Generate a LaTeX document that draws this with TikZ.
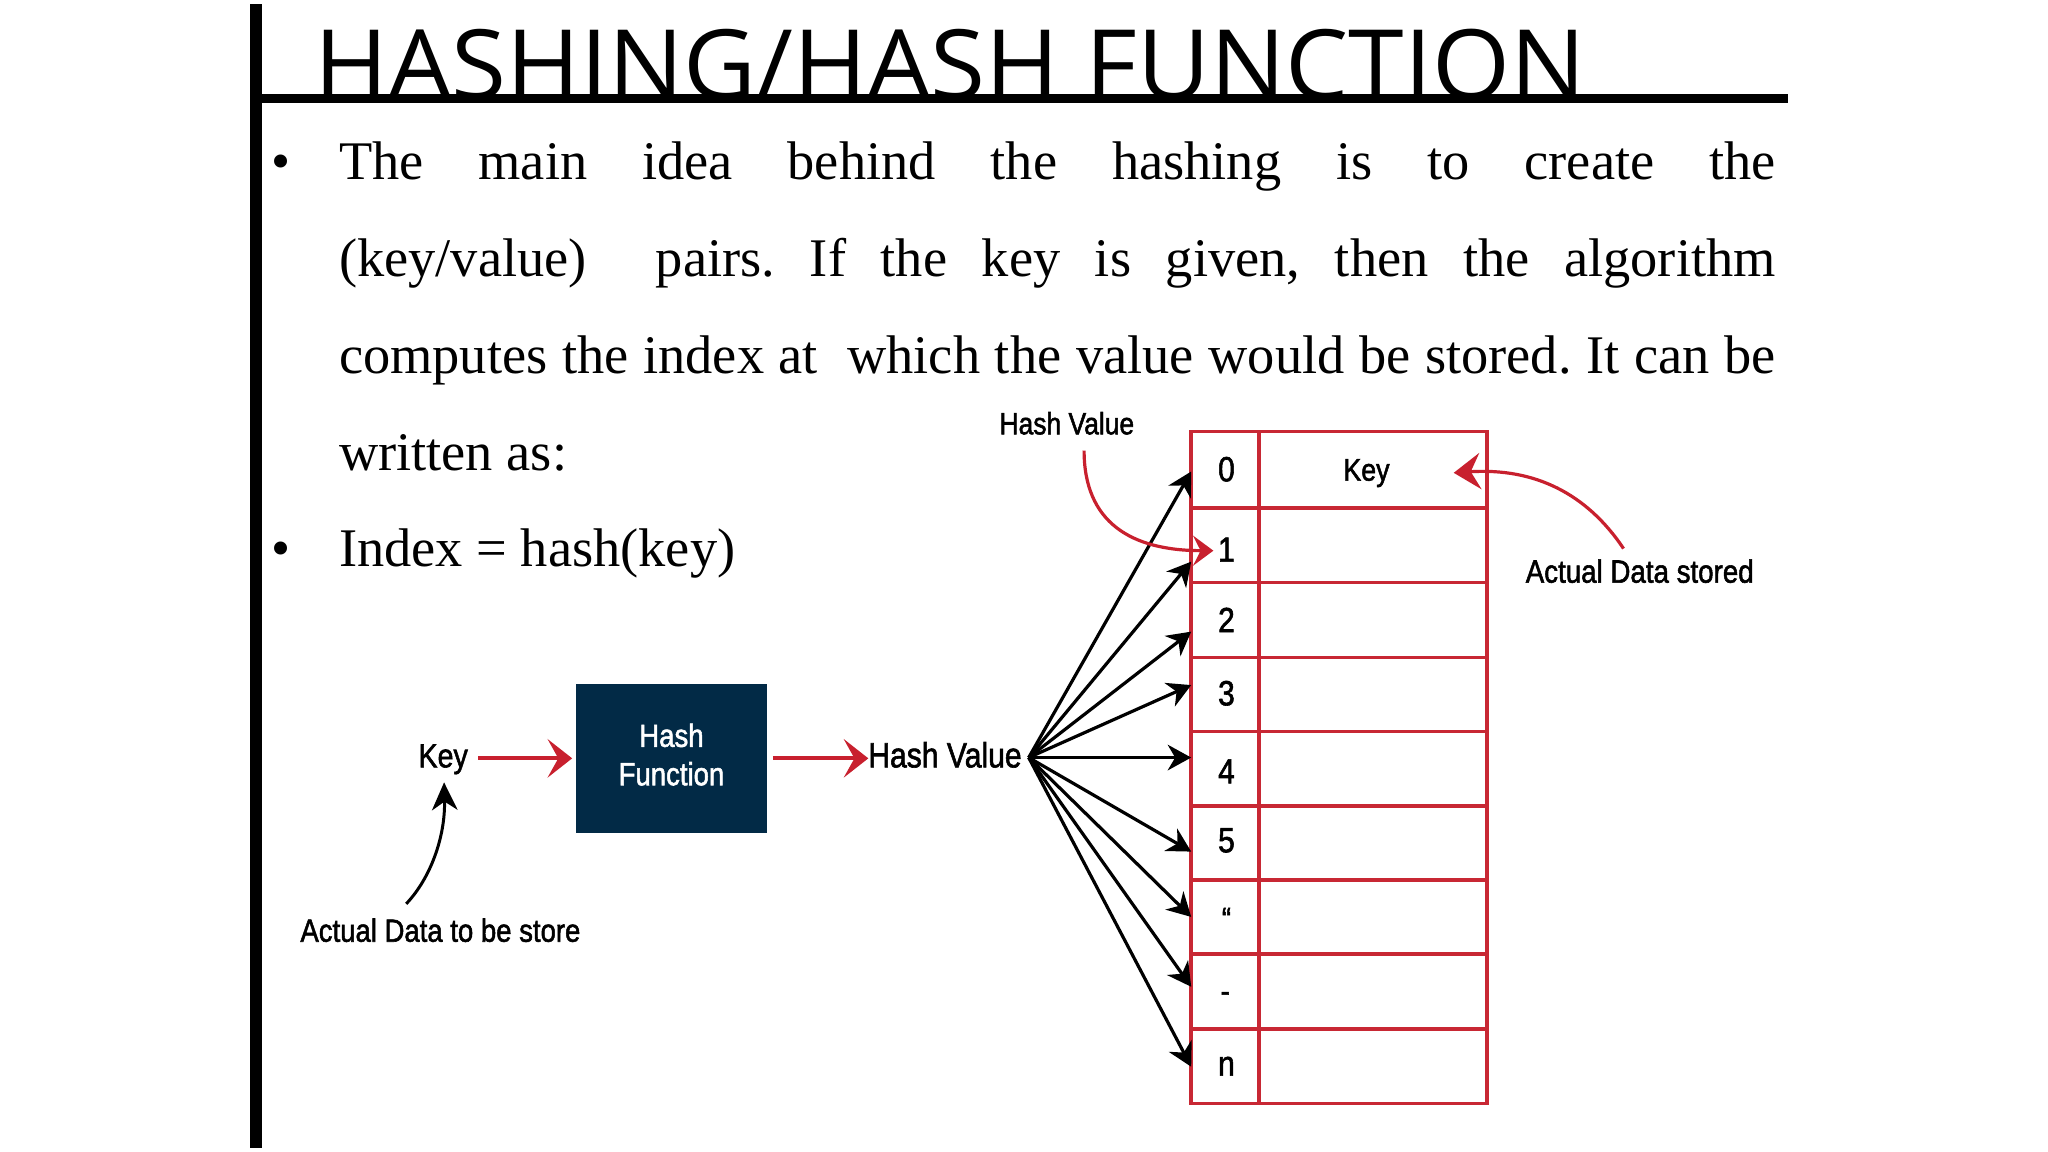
\documentclass[tikz,border=0pt]{standalone}
\usepackage{graphicx}
\usepackage{fontspec}
\setmainfont{Liberation Serif}
\setsansfont{Liberation Sans}
\newfontfamily\titlefont{Open Sans}
\newfontfamily\dfont{Liberation Sans}[FakeBold=1.8]
\usetikzlibrary{arrows.meta}
\definecolor{hred}{RGB}{200,32,46}
\definecolor{tred}{RGB}{200,40,52}
\definecolor{navy}{RGB}{2,42,70}
\newcommand{\dlab}[2]{\scalebox{0.86}[1]{\fontsize{#1}{#1}\dfont\selectfont #2}}
\frenchspacing
\begin{document}
\begin{tikzpicture}[x=0.612245pt, y=-0.612245pt,
  every node/.style={inner sep=0pt, outer sep=0pt},
  body/.style={anchor=base west, font=\fontsize{25.5}{30}\selectfont},
  bul/.style={anchor=base, font=\fontsize{25.5}{30}\selectfont},
  lbl/.style={anchor=base},
  blkarrow/.style={line width=1.5pt, -{Stealth[length=11pt,width=12pt,inset=3.5pt]}},
  blkcurve/.style={line width=1.4pt, -{Stealth[length=13pt,width=12pt,inset=4pt]}},
  redarrow/.style={hred, line width=1.9pt, -{Stealth[length=11.5pt,width=18pt,inset=5pt]}},
  redcurveA/.style={hred, line width=1.5pt, -{Stealth[length=9.5pt,width=14pt,inset=3.5pt]}},
  redcurveB/.style={hred, line width=1.5pt, -{Stealth[length=12.5pt,width=17pt,inset=4.5pt]}},
  tline/.style={draw=tred, line width=1.6pt}
]
\fill[white] (0,0) rectangle (1568,882);
\path[use as bounding box] (0,0) rectangle (1568,882);

% title
\node[anchor=base west, font={\titlefont\fontsize{45.5}{50}\selectfont}] (title) at (240.5,76)
  {\resizebox{596pt}{\height}{HASHING/HASH FUNCTION}};
\fill (200,72.2) rectangle (1369,79.1);
\fill (191.5,3) rectangle (200.5,879);

% body text
\node[bul] (b1) at (215.5,137.3) {•};
\node[bul] (b2) at (215.5,433.9) {•};
\node[body] (l1) at (259.6,137.3) {\makebox[673.4pt][s]{The main idea behind the hashing is to create the}};
\node[body] (l2) at (259.6,211.8) {\makebox[673.4pt][s]{(key/value)\ \ pairs. If the key is given, then the algorithm}};
\node[body] (l3) at (259.6,285.9) {\makebox[673.4pt][s]{computes the index at\ \ which the value would be stored. It can be}};
\node[body] (l4) at (259.6,360.4) {written as:};
\node[body] (l5) at (259.6,433.9) {Index = hash(key)};

% left part of diagram
\node[lbl] (key) at (339.3,587.5) {\dlab{15.6}{Key}};
\node[fill=navy, text=white, minimum width=89.1pt, minimum height=69.7pt] (hf) at (514.1,580.6)
  {\scalebox{0.86}[1]{\fontsize{15}{18}\dfont\selectfont\begin{tabular}{@{}c@{}}Hash\\Function\end{tabular}}};
\node[lbl] (hv) at (723.5,587.5) {\dlab{16.4}{Hash Value}};
\draw[redarrow, shorten <=5pt, shorten >=2pt] (key.east |- hf.west) -- (hf.west);
\draw[redarrow, shorten <=3pt] (hf.east) -- (hf.east -| hv.west);

\node[lbl] (adt) at (337.2,721) {\dlab{15}{Actual Data to be store}};
\coordinate (adts) at (311,692);
\coordinate (keyb) at (340,599);
\draw[blkcurve] (adts) .. controls (330,672) and (341,640) .. (keyb);

% table
\draw[tline] (912,330.5) rectangle (1138.6,844.7);
\draw[tline] (963.8,330.5) -- (963.8,844.7);
\foreach \yy in {389,446.1,503.3,560.2,617.1,673.8,730.5,787.9}
  \draw[tline] (912,\yy) -- (1138.6,\yy);
\node[lbl] (r0) at (939,368.5) {\dlab{16.4}{0}};
\node[lbl] (r1) at (939,430) {\dlab{16.4}{1}};
\node[lbl] (r2) at (939,484) {\dlab{16.4}{2}};
\node[lbl] (r3) at (939,540) {\dlab{16.4}{3}};
\node[lbl] (r4) at (939,599.8) {\dlab{16.4}{4}};
\node[lbl] (r5) at (939,652.5) {\dlab{16.4}{5}};
\node[lbl] (r6) at (939,712) {\dlab{15}{“}};
\node[lbl] (r7) at (938,767) {\dlab{15}{-}};
\node[lbl] (r8) at (939,823.5) {\dlab{16.4}{n}};
\node[lbl] (tkey) at (1046.2,368) {\dlab{14.6}{Key}};

% fan of arrows
\coordinate (fan) at (787.6,580);
\foreach \yy [count=\i from 0] in {361,430,483.6,524.5,580,652,702,755.5,816.7}{
  \coordinate (t\i) at (912,\yy);
  \draw[blkarrow] (fan) -- (t\i);
}

% top hash value label and arrow
\node[lbl] (hv2) at (816.8,332.5) {\dlab{14.4}{Hash Value}};
\coordinate (c1s) at (830,345);
\coordinate (c1e) at (929,421.6);
\draw[redcurveA] (c1s) .. controls (830,400) and (866,421.6) .. (c1e);

% actual data stored
\node[lbl] (ads) at (1255.4,446.1) {\dlab{15.1}{Actual Data stored}};
\coordinate (c2s) at (1243,420);
\coordinate (c2e) at (1113,362);
\draw[redcurveB] (c2s) .. controls (1215,378) and (1175,358) .. (c2e);
\end{tikzpicture}
\end{document}
